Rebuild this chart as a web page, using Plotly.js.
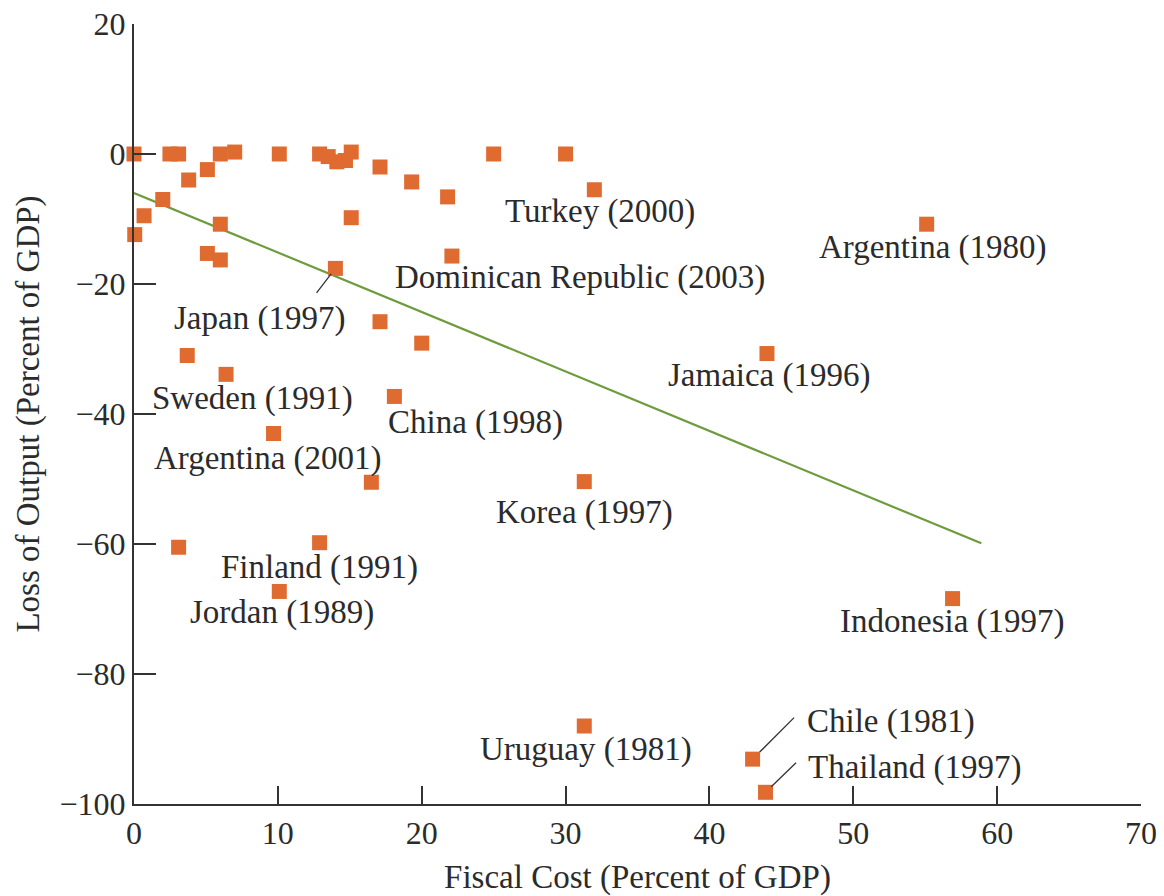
<!DOCTYPE html>
<html>
<head>
<meta charset="utf-8">
<script src="https://cdn.plot.ly/plotly-3.0.1.min.js"></script>
<style>
  html, body { margin: 0; padding: 0; background: #ffffff; }
  #chart { width: 1164px; height: 896px; }
</style>
</head>
<body>
<div id="chart"></div>
<script>
// ---- Data ----
const fiscalCost = [
  0, 0.05, 0.7, 2.0, 2.5, 3.1, 3.8, 5.1, 5.1, 6.0,
  6.0, 6.0, 7.0, 10.1, 12.9, 13.5, 14.1, 14.7, 15.1, 15.1,
  14.0, 17.1, 19.3, 21.8, 22.1, 25.0, 30.0, 32.0, 55.1, 44.0,
  17.1, 20.0, 3.7, 6.4, 18.1, 9.7, 16.5, 31.3, 3.1, 12.9,
  10.1, 56.9, 31.3, 43.0, 43.9
];
const outputLoss = [
  0, -12.4, -9.5, -7.0, 0, 0, -4.0, -2.4, -15.3, 0,
  -10.8, -16.3, 0.3, 0, 0, -0.4, -1.2, -1.0, 0.3, -9.8,
  -17.6, -2.0, -4.3, -6.6, -15.7, 0, 0, -5.5, -10.8, -30.7,
  -25.8, -29.1, -31.0, -33.9, -37.3, -43.0, -50.5, -50.4, -60.5, -59.8,
  -67.3, -68.4, -88.0, -93.1, -98.2
];
const crisisLabels = [
  '', '', '', '', '', '', '', '', '', '',
  '', '', '', '', '', '', '', '', '', '',
  'Japan (1997)', '', '', '', 'Dominican Republic (2003)', '', '', 'Turkey (2000)', 'Argentina (1980)', 'Jamaica (1996)',
  '', '', '', 'Sweden (1991)', 'China (1998)', 'Argentina (2001)', '', 'Korea (1997)', '', 'Finland (1991)',
  'Jordan (1989)', 'Indonesia (1997)', 'Uruguay (1981)', 'Chile (1981)', 'Thailand (1997)'
];
// Fitted regression line (end points)
const trendX = [0, 58.9];
const trendY = [-6.0, -59.9];

const xTicks = [0, 10, 20, 30, 40, 50, 60, 70];
const yTicks = [-100, -80, -60, -40, -20, 0, 20];

// ---- Label placement (pixel shifts from each labelled point; dy positive = up) ----
const labelStyle = {
  'Japan (1997)':              { dx: -76, dy: -50, lead: { ax: -20, ay: 26, so: 7 } },
  'Dominican Republic (2003)': { dx: 128, dy: -21 },
  'Turkey (2000)':             { dx: 6,   dy: -22 },
  'Argentina (1980)':          { dx: 6,   dy: -23 },
  'Jamaica (1996)':            { dx: 3,   dy: -22 },
  'Sweden (1991)':             { dx: 26,  dy: -24 },
  'China (1998)':              { dx: 81,  dy: -26 },
  'Argentina (2001)':          { dx: -6,  dy: -25 },
  'Korea (1997)':              { dx: 0,   dy: -31 },
  'Finland (1991)':            { dx: 0,   dy: -25 },
  'Jordan (1989)':             { dx: 3,   dy: -21 },
  'Indonesia (1997)':          { dx: 0,   dy: -23 },
  'Uruguay (1981)':            { dx: 2,   dy: -23 },
  'Chile (1981)':              { dx: 138, dy: 38, lead: { ax: 43, ay: -43, so: 10 } },
  'Thailand (1997)':           { dx: 149, dy: 25, lead: { ax: 32, ay: -31, so: 8 } }
};

const FONT = '"Liberation Serif", "Times New Roman", serif';
const TEXT = '#2b2b2b';
const AXIS = '#333333';

const annotations = [];
crisisLabels.forEach((lab, i) => {
  if (!lab) return;
  const st = labelStyle[lab] || { dx: 0, dy: -22 };
  annotations.push({
    x: fiscalCost[i], y: outputLoss[i], xref: 'x', yref: 'y',
    text: lab, showarrow: false,
    xanchor: 'center', yanchor: 'middle',
    xshift: st.dx, yshift: st.dy,
    font: { family: FONT, size: 33, color: TEXT }
  });
  if (st.lead) {
    annotations.push({
      x: fiscalCost[i], y: outputLoss[i], xref: 'x', yref: 'y',
      text: '', showarrow: true, arrowhead: 0, arrowwidth: 1.3,
      arrowcolor: AXIS, ax: st.lead.ax, ay: st.lead.ay,
      standoff: st.lead.so, startstandoff: 0
    });
  }
});

const traces = [
  {
    x: trendX, y: trendY, type: 'scatter', mode: 'lines',
    line: { color: '#6f9b3f', width: 2.2 }, hoverinfo: 'skip', showlegend: false
  },
  {
    x: fiscalCost, y: outputLoss, type: 'scatter', mode: 'markers',
    marker: { symbol: 'square', size: 15, color: '#df6b31', line: { width: 0 } },
    cliponaxis: false, showlegend: false
  }
];

const layout = {
  width: 1164, height: 896,
  margin: { l: 134, r: 23, t: 24, b: 92, autoexpand: false },
  paper_bgcolor: '#ffffff', plot_bgcolor: '#ffffff',
  font: { family: FONT, color: TEXT },
  showlegend: false,
  xaxis: {
    range: [0, 70], tickvals: xTicks, ticks: 'inside', ticklen: 18, tickwidth: 2,
    tickcolor: AXIS, showline: true, linecolor: AXIS, linewidth: 2,
    showgrid: false, zeroline: false, automargin: false,
    tickfont: { family: FONT, size: 32, color: TEXT },
    title: { text: 'Fiscal Cost (Percent of GDP)', font: { family: FONT, size: 33, color: TEXT }, standoff: 14 }
  },
  yaxis: {
    range: [-100, 20], tickvals: yTicks, ticks: 'inside', ticklen: 22, tickwidth: 2,
    tickcolor: AXIS, showline: true, linecolor: AXIS, linewidth: 2,
    showgrid: false, zeroline: false, automargin: false,
    tickfont: { family: FONT, size: 32, color: TEXT },
    title: { text: 'Loss of Output (Percent of GDP)', font: { family: FONT, size: 33, color: TEXT }, standoff: 10 }
  },
  annotations: annotations
};

Plotly.newPlot('chart', traces, layout, { displayModeBar: false, staticPlot: true });
</script>
</body>
</html>
